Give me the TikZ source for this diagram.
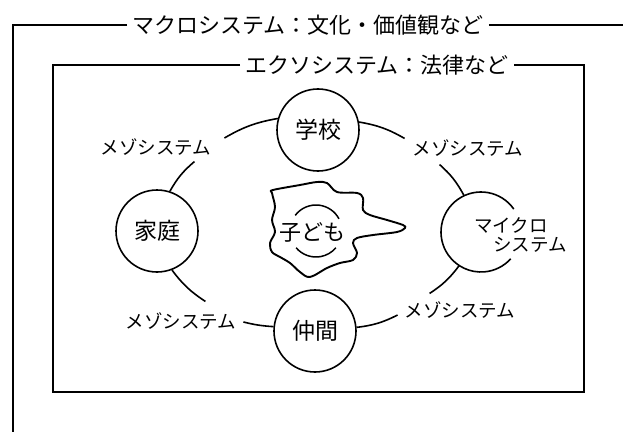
\documentclass[tikz,border=0pt]{standalone}
\usepackage{fontspec}
\newfontfamily\jp{Noto Sans CJK JP}
\begin{document}
\begin{tikzpicture}[x=1pt,y=1pt,
  frame/.style={line width=1.4pt},
  circ/.style={circle, draw, line width=1.6pt, minimum size=82pt, inner sep=0pt, font=\jp\fontsize{23}{23}\selectfont},
  lbl/.style={inner sep=0pt, font=\jp\fontsize{18.5}{18.5}\selectfont},
  titlebox/.style={inner sep=5pt, font=\jp\fontsize{22}{22}\selectfont},
  conn/.style={line width=1.6pt, bend right=10}]
\useasboundingbox (0,0) rectangle (623,432);

% macrosystem frame
\node[titlebox] (macro) at (308,407) {マクロシステム：文化・価値観など};
\coordinate (mtl) at (13,407);
\coordinate (mbl) at (13,0);
\coordinate (mtr) at (623,407);
\draw[frame] (macro.west) -- (mtl) -- (mbl);
\draw[frame] (macro.east) -- (mtr);

% exosystem frame
\node[titlebox] (exo) at (377,367) {エクソシステム：法律など};
\coordinate (itl) at (53,367);
\coordinate (ibl) at (53,40);
\coordinate (ibr) at (584,40);
\coordinate (itr) at (584,367);
\draw[frame] (exo.west) -- (itl) -- (ibl) -- (ibr) -- (itr) -- (exo.east);

% microsystems
\node[circ] (school) at (318,302) {学校};
\node[circ] (home) at (157,201) {家庭};
\node[circ] (peers) at (315,101) {仲間};
\coordinate (micro) at (481,200);
\draw[line width=1.6pt] ([shift={(35:40)}]micro) arc[start angle=35, end angle=318, radius=40];
\node[lbl] (microa) at (511,207) {マイクロ};
\node[lbl] (microb) at (530,187) {システム};

% mesosystem labels
\node[lbl] (ul) at (156,285) {メゾシステム};
\node[lbl] (ur) at (468,284) {メゾシステム};
\node[lbl] (ll) at (181,111) {メゾシステム};
\node[lbl] (lr) at (460,122) {メゾシステム};

% connectors
\draw[conn] (school.164) to ([shift={(13,9)}]ul.east);
\draw[conn] ([shift={(-17,-6)}]ul.south east) to (home.72);
\draw[conn] (home.-69) to ([shift={(-31,11)}]ll.north east);
\draw[conn, bend right=5] ([shift={(7,-1)}]ll.east) to (peers.174);
\draw[conn] (peers.5) to ([shift={(-7,-5)}]lr.west);
\draw[conn] ([shift={(25,8)}]lr.north west) to ([shift={(237:40)}]micro);
\draw[conn] ([shift={(115:40)}]micro) to ([shift={(27,-8)}]ur.south west);
\draw[conn] ([shift={(-8,1)}]ur.north west) to (school.11);

% child
\draw[line width=1.9pt, line join=round] plot[smooth cycle, tension=0.55] coordinates {
 (273,242) (300,247) (317,250) (327,249) (337,240) (357,239) (363,234) (363,222)
 (370,217) (387,212) (403,207) (405,204) (397,200) (373,197) (357,194) (353,189)
 (357,179) (353,172) (340,169) (327,164) (310,155) (300,160) (290,169) (280,175)
 (272,180) (270,189) (275,200) (272,212) (275,225) (272,239)};
\node[inner sep=0pt, font=\jp\fontsize{22}{22}\selectfont] (child) at (312,200) {子ども};
\coordinate (smile) at (316,201);
\draw[line width=1.5pt] ([shift={(143:26)}]smile) arc[start angle=143, end angle=28, radius=26];
\draw[line width=1.5pt] ([shift={(220:26)}]smile) arc[start angle=220, end angle=320, radius=26];
\end{tikzpicture}
\end{document}
